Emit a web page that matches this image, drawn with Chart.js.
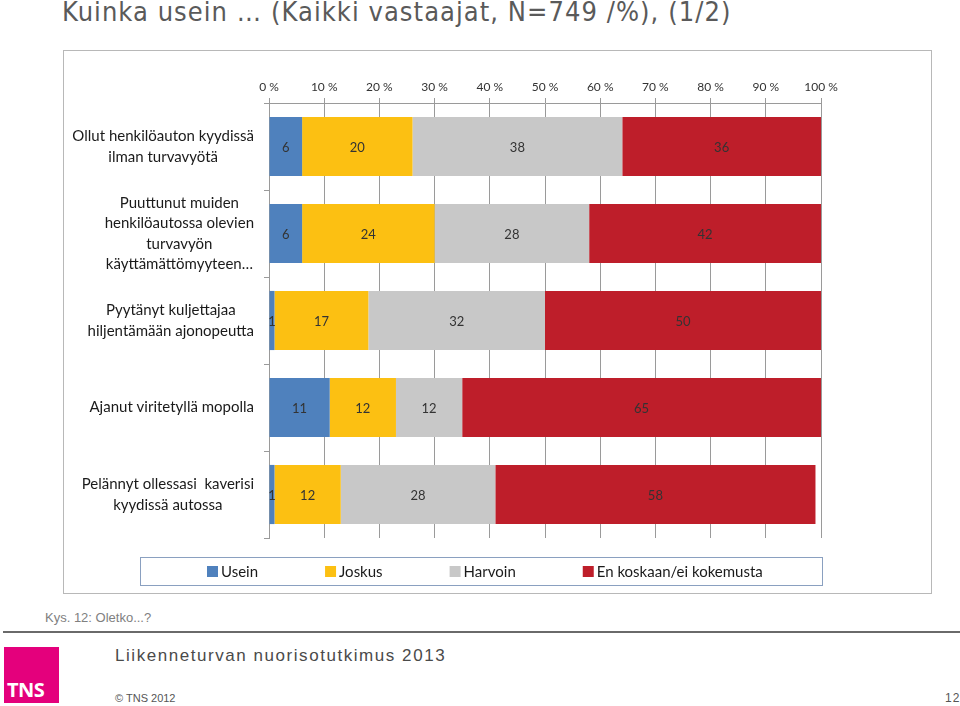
<!DOCTYPE html>
<html lang="fi">
<head>
  <meta charset="UTF-8" />
  <title>Kuinka usein</title>
  <script src="https://cdn.jsdelivr.net/npm/chart.js"></script>
  <style>
    body { margin: 0; width: 960px; height: 706px; background: #fff; position: relative; overflow: hidden; font-family: "Liberation Sans", Arial, sans-serif; }
    .title { position: absolute; left: 62px; top: -4px; font-family: "Liberation Sans Narrow", "DejaVu Sans Condensed", sans-serif; font-size: 27px; color: #5a5a5a; white-space: nowrap; letter-spacing: 1.05px; }
    .box { position: absolute; left: 63px; top: 50px; width: 867px; height: 542px; border: 1px solid #b8b8b8; }
    .box canvas { display: block; }
    .kys { position: absolute; left: 45px; top: 610px; font-size: 13px; color: #808080; }
    .rule { position: absolute; left: 3px; top: 631px; width: 957px; height: 2px; background: #6a6a6a; }
    .logo { position: absolute; left: 4px; top: 647px; width: 55px; height: 56px; background: #e4007c; }
    .logo span { position: absolute; left: 3px; bottom: 0px; color: #fff; font-weight: bold; font-size: 20px; font-family: "Open Sans", sans-serif; letter-spacing: -0.5px; }
    .study { position: absolute; left: 115px; top: 646px; font-size: 17px; letter-spacing: 1.55px; color: #4a4a4a; }
    .copy { position: absolute; left: 115px; top: 692px; font-size: 11px; color: #555; }
    .page { position: absolute; left: 945px; top: 691px; font-size: 12px; color: #555; letter-spacing: 1px; }
  </style>
</head>
<body>
  <div class="title">Kuinka usein … (Kaikki vastaajat, N=749 /%), (1/2)</div>
  <div class="box"><canvas id="chart" width="867" height="542"></canvas></div>
  <div class="kys">Kys. 12: Oletko...?</div>
  <div class="rule"></div>
  <div class="logo"><span>TNS</span></div>
  <div class="study">Liikenneturvan nuorisotutkimus 2013</div>
  <div class="copy">© TNS 2012</div>
  <div class="page">12</div>

  <script>
    const categories = [
      ['Ollut henkilöauton kyydissä', 'ilman turvavyötä'],
      ['Puuttunut muiden', 'henkilöautossa olevien', 'turvavyön', 'käyttämättömyyteen…'],
      ['Pyytänyt kuljettajaa', 'hiljentämään ajonopeutta'],
      ['Ajanut viritetyllä mopolla'],
      ['Pelännyt ollessasi  kaverisi', 'kyydissä autossa']
    ];
    const seriesNames = ['Usein', 'Joskus', 'Harvoin', 'En koskaan/ei kokemusta'];
    const usein = [6, 6, 1, 11, 1];
    const joskus = [20, 24, 17, 12, 12];
    const harvoin = [38, 28, 32, 12, 28];
    const enKoskaan = [36, 42, 50, 65, 58];
    const xTicks = [0, 10, 20, 30, 40, 50, 60, 70, 80, 90, 100];

    const colors = ['#4f81bd', '#fcc012', '#c8c8c8', '#be1e2a'];
    const labelFont = '"Lato", "Open Sans", sans-serif';

    // value labels centred in each segment
    const valueLabels = {
      id: 'valueLabels',
      afterDatasetsDraw(chart) {
        const ctx = chart.ctx;
        ctx.save();
        ctx.font = '13px ' + labelFont;
        ctx.fillStyle = '#333';
        ctx.textAlign = 'center';
        ctx.textBaseline = 'middle';
        chart.data.datasets.forEach((ds, i) => {
          chart.getDatasetMeta(i).data.forEach((bar, j) => {
            const p = bar.getProps(['x', 'y', 'base'], true);
            ctx.fillText(String(ds.data[j]), (p.x + p.base) / 2, p.y + 1);
          });
        });
        ctx.restore();
      }
    };

    // category labels: each block centred on itself, right edge fixed
    const categoryLabels = {
      id: 'categoryLabels',
      afterDraw(chart) {
        const ctx = chart.ctx;
        const y = chart.scales.y;
        const right = chart.chartArea.left - 15;
        const lh = 20.5;
        ctx.save();
        ctx.font = '15px ' + labelFont;
        ctx.fillStyle = '#1a1a1a';
        ctx.textAlign = 'center';
        ctx.textBaseline = 'middle';
        categories.forEach((lines, i) => {
          const w = Math.max(...lines.map(l => ctx.measureText(l).width));
          const cx = right - w / 2;
          const cy = y.getPixelForValue(i);
          lines.forEach((l, k) => {
            ctx.fillText(l, cx, cy + (k - (lines.length - 1) / 2) * lh);
          });
        });
        ctx.restore();
      }
    };

    // boxed legend under the plot
    const boxLegend = {
      id: 'boxLegend',
      afterDraw(chart) {
        const ctx = chart.ctx;
        const left = 76, right = 758, top = 506, bottom = 534;
        ctx.save();
        ctx.strokeStyle = '#8aa0c0';
        ctx.lineWidth = 1;
        ctx.strokeRect(left + 0.5, top + 0.5, right - left, bottom - top);
        ctx.font = '15px ' + labelFont;
        ctx.textBaseline = 'middle';
        let x = left + 67;
        const cy = (top + bottom) / 2;
        chart.data.datasets.forEach(ds => {
          ctx.fillStyle = ds.backgroundColor;
          ctx.fillRect(x, cy - 5, 11, 11);
          ctx.fillStyle = '#1a1a1a';
          ctx.fillText(ds.label, x + 14, cy + 1);
          x += 14 + ctx.measureText(ds.label).width + 67;
        });
        ctx.restore();
      }
    };

    new Chart(document.getElementById('chart'), {
      type: 'bar',
      data: {
        labels: categories,
        datasets: [
          { label: seriesNames[0], data: usein, backgroundColor: colors[0] },
          { label: seriesNames[1], data: joskus, backgroundColor: colors[1] },
          { label: seriesNames[2], data: harvoin, backgroundColor: colors[2] },
          { label: seriesNames[3], data: enKoskaan, backgroundColor: colors[3] }
        ]
      },
      options: {
        indexAxis: 'y',
        responsive: false,
        animation: false,
        barPercentage: 0.68,
        categoryPercentage: 1,
        layout: { padding: { left: 0, right: 110, top: 0, bottom: 55 } },
        plugins: {
          legend: { display: false },
          tooltip: { enabled: false }
        },
        scales: {
          x: {
            stacked: true,
            position: 'top',
            min: 0,
            max: 100,
            afterBuildTicks: s => { s.ticks = xTicks.map(v => ({ value: v })); },
            afterFit: s => { s.height = 52; },
            grid: { color: '#9a9a9a', tickLength: 5, lineWidth: 1 },
            border: { color: '#9a9a9a' },
            ticks: {
              padding: 4,
              color: '#333',
              font: { family: labelFont, size: 12 },
              callback: v => v + ' %'
            }
          },
          y: {
            stacked: true,
            afterFit: s => { s.width = 205; },
            grid: { drawOnChartArea: false, tickLength: 5, color: '#9a9a9a' },
            border: { color: '#9a9a9a' },
            ticks: { display: false }
          }
        }
      },
      plugins: [valueLabels, categoryLabels, boxLegend]
    });
  </script>
</body>
</html>
